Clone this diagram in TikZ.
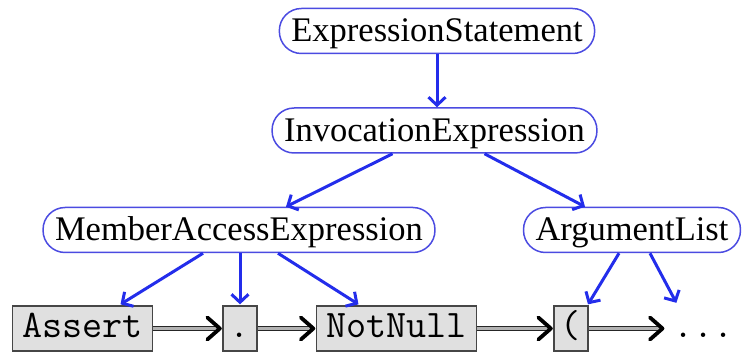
\documentclass[tikz,border=0pt]{standalone}
\usepackage{fontspec}
\setmainfont{Liberation Serif}
\usetikzlibrary{arrows.meta}
\definecolor{arrblue}{RGB}{35,45,235}
\definecolor{boxblue}{RGB}{75,75,225}
\definecolor{tokfill}{RGB}{224,224,224}
\definecolor{tokdraw}{RGB}{70,70,70}
\begin{document}
\begin{tikzpicture}[x=1pt,y=-1pt,
  astnode/.style={draw=boxblue, line width=1.5pt, rounded corners=22pt,
    minimum height=45pt, inner xsep=12pt, inner ysep=0pt,
    font=\fontsize{34.5}{36}\selectfont, text height=26pt, text depth=4pt},
  tokbase/.style={minimum height=45pt, inner sep=0pt,
    font=\fontsize{39}{40}\selectfont\ttfamily, text height=23pt, text depth=4pt},
  tok/.style={tokbase, draw=tokdraw, fill=tokfill, line width=1.3pt},
  treeedge/.style={draw=arrblue, line width=3pt,
    -{Straight Barb[length=8pt,width=17pt,line width=3pt]}},
  dbl/.style={draw=black!85, line width=1.2pt, double=black!30, double distance=3pt},
  chev/.style={draw=black, line width=3.8pt, line cap=round, line join=round}
]
\useasboundingbox (0,0) rectangle (744,352);

% AST nodes
\node[astnode] (es) at (437,31) {ExpressionStatement};
\node[astnode] (ie) at (434.5,130.5) {InvocationExpression};
\node[astnode] (mae) at (239,230) {MemberAccessExpression};
\node[astnode] (al) at (632,230) {ArgumentList};

% tokens
\node[tok, minimum width=140pt] (assert) at (82.5,328.5) {Assert};
\node[tok, minimum width=34pt] (dot) at (240,328.5) {.};
\node[tok, minimum width=160pt] (notnull) at (396.5,328.5) {NotNull};
\node[tok, minimum width=34pt] (paren) at (571,328.5) {(};
\node[tokbase, anchor=west] (dots) at (673,328.5) {...};

% tree edges
\draw[treeedge] (es.south) -- (es.south |- ie.north);
\draw[treeedge] ([xshift=-42pt]ie.south) -- ([xshift=47pt]mae.north);
\draw[treeedge] ([xshift=50pt]ie.south) -- ([xshift=-47pt]al.north);
\draw[treeedge] ([xshift=-36pt]mae.south) -- ([xshift=38pt,yshift=1pt]assert.north);
\draw[treeedge] ([xshift=1pt]mae.south) -- ([yshift=1pt]dot.north);
\draw[treeedge] ([xshift=39pt]mae.south) -- ([xshift=-38pt,yshift=1pt]notnull.north);
\draw[treeedge] ([xshift=-13pt]al.south) -- ([xshift=17pt,yshift=1pt]paren.north);
\draw[treeedge] ([xshift=18pt]al.south) -- ([xshift=-27pt,yshift=3pt]dots.north);

% token sequence arrows
\draw[dbl] (assert.east) -- ([xshift=-4pt]dot.west);
\draw[chev] ([xshift=-15pt,yshift=11pt]dot.west) -- ([xshift=-2.5pt]dot.west) -- ([xshift=-15pt,yshift=-11pt]dot.west);
\draw[dbl] (dot.east) -- ([xshift=-4pt]notnull.west);
\draw[chev] ([xshift=-15pt,yshift=11pt]notnull.west) -- ([xshift=-2.5pt]notnull.west) -- ([xshift=-15pt,yshift=-11pt]notnull.west);
\draw[dbl] (notnull.east) -- ([xshift=-4pt]paren.west);
\draw[chev] ([xshift=-15pt,yshift=11pt]paren.west) -- ([xshift=-2.5pt]paren.west) -- ([xshift=-15pt,yshift=-11pt]paren.west);
\draw[dbl] (paren.east) -- ([xshift=-12pt]dots.west);
\draw[chev] ([xshift=-23pt,yshift=11pt]dots.west) -- ([xshift=-10.5pt]dots.west) -- ([xshift=-23pt,yshift=-11pt]dots.west);
\end{tikzpicture}
\end{document}
